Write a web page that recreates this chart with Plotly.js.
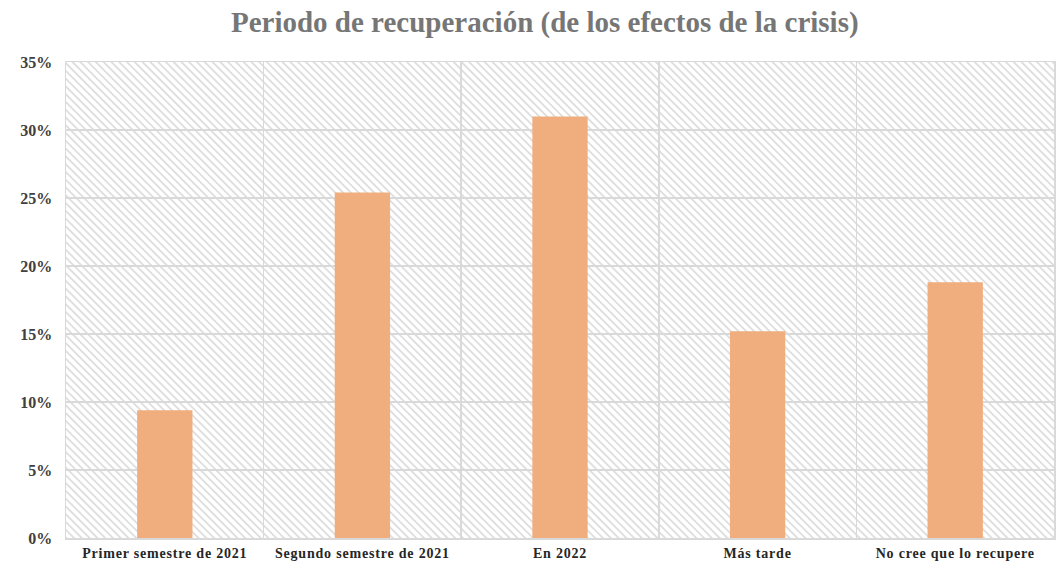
<!DOCTYPE html>
<html>
<head>
<meta charset="utf-8">
<script src="https://cdn.plot.ly/plotly-3.0.1.min.js"></script>
<style>html,body{margin:0;padding:0;background:#fff;}#chart{width:1062px;height:575px;}.xtick text{letter-spacing:0.8px;}</style>
</head>
<body>
<div id="chart"></div>
<script>
const categories = ["Primer semestre de 2021", "Segundo semestre de 2021", "En 2022", "Más tarde", "No cree que lo recupere"];
const values = [0.094, 0.254, 0.310, 0.152, 0.188];
const yTicks = [0, 0.05, 0.10, 0.15, 0.20, 0.25, 0.30, 0.35];
const yTickLabels = ["0%", "5%", "10%", "15%", "20%", "25%", "30%", "35%"];

const W = 988, H = 476;
const svg = `<svg xmlns="http://www.w3.org/2000/svg" width="${W}" height="${H}" viewBox="0 0 ${W} ${H}" preserveAspectRatio="none"><defs><pattern id="p" width="5.5" height="5.5" patternUnits="userSpaceOnUse" patternTransform="rotate(45)"><rect width="5.5" height="5.5" fill="#ffffff"/><rect x="0" y="0" width="5.5" height="1.8" fill="#dedede"/></pattern></defs><rect width="${W}" height="${H}" fill="url(#p)"/></svg>`;
const img = "data:image/svg+xml;base64," + btoa(svg);

const font = "Liberation Serif, Times New Roman, serif";
Plotly.newPlot("chart", [{
  type: "bar",
  x: categories,
  y: values,
  marker: {color: "#F0AD7E"},
  width: 0.28,
  hoverinfo: "x+y"
}], {
  width: 1062, height: 575,
  margin: {l: 66, r: 8, t: 62, b: 37},
  paper_bgcolor: "#ffffff",
  plot_bgcolor: "rgba(0,0,0,0)",
  title: {text: "<b>Periodo de recuperación (de los efectos de la crisis)</b>", font: {family: font, size: 29, color: "#767676"}, x: 0.513, xanchor: "center", y: 0.962, yanchor: "middle"},
  images: [{source: img, xref: "paper", yref: "paper", x: 0, y: 1, sizex: 1, sizey: 1, xanchor: "left", yanchor: "top", sizing: "stretch", layer: "below"}],
  xaxis: {
    type: "category",
    tickson: "boundaries",
    showgrid: true, gridcolor: "#d9d9d9", gridwidth: 1.5,
    showline: true, linecolor: "#d9d9d9", linewidth: 1.5, mirror: true,
    ticks: "", ticklen: 0,
    ticklabelstandoff: 2,
    tickfont: {family: font, size: 14, color: "#262626", weight: "bold"},
    fixedrange: true
  },
  yaxis: {
    range: [0, 0.35],
    tickvals: yTicks, ticktext: yTickLabels,
    showgrid: true, gridcolor: "#d9d9d9", gridwidth: 1.5,
    showline: true, linecolor: "#d9d9d9", linewidth: 1.5, mirror: true,
    zeroline: false,
    ticks: "", ticklen: 0,
    ticklabelstandoff: 9,
    tickfont: {family: font, size: 16, color: "#404040", weight: "bold"},
    fixedrange: true
  },
  showlegend: false
}, {displayModeBar: false, staticPlot: true});
</script>
</body>
</html>
